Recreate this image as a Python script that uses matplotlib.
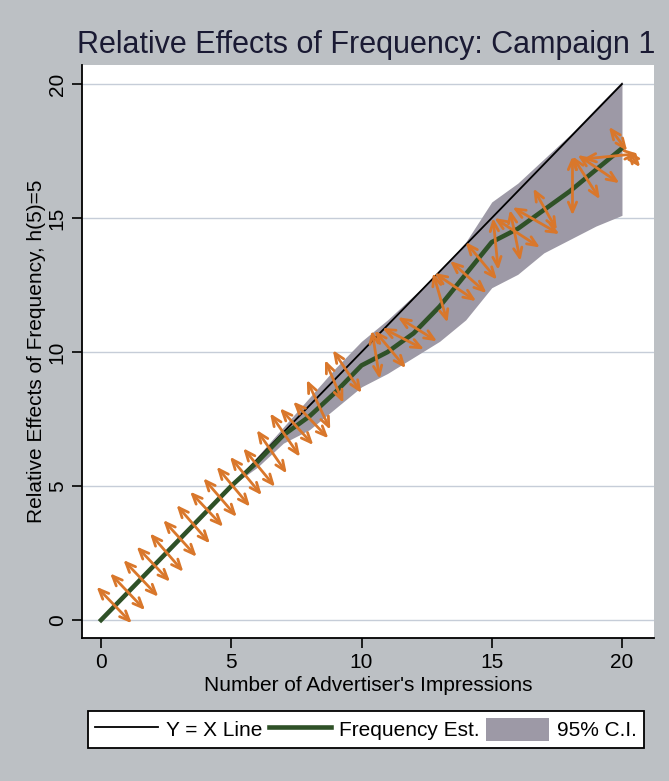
import matplotlib
matplotlib.use("Agg")
import matplotlib.pyplot as plt
from matplotlib.lines import Line2D
from matplotlib.patches import Patch

plt.rcParams['font.family'] = ['Liberation Sans', 'DejaVu Sans']

# data
impressions = [0, 1, 2, 3, 4, 5, 6, 7, 8, 9, 10, 11, 12, 13, 14, 15, 16, 17, 18, 19, 20]
freq_est = [0, 1.0, 2.0, 3.0, 4.0, 5.0, 5.9, 6.9, 7.6, 8.5, 9.5, 10.0, 10.7, 11.7,
            12.9, 14.1, 14.6, 15.3, 16.0, 16.8, 17.6]
ci_upper = [0.05, 1.05, 2.05, 3.05, 4.05, 5.0, 6.1, 7.2, 8.3, 9.4, 10.4, 11.2, 12.1,
            13.0, 14.1, 15.6, 16.3, 17.2, 18.1, 19.1, 20.1]
ci_lower = [-0.05, 0.95, 1.95, 2.95, 3.95, 5.0, 5.7, 6.6, 7.1, 7.9, 8.7, 9.2, 9.8,
            10.4, 11.2, 12.4, 12.9, 13.7, 14.2, 14.7, 15.1]
diag_x = [0, 20]
diag_y = [0, 20]

# orange double arrows drawn over the chart (x0, y0, x1, y1)
arrow_x0 = [-0.17, 0.35, 0.86, 1.37, 1.88, 2.39, 2.90, 3.42, 3.93, 4.44, 4.95, 5.46,
            5.98, 6.49, 6.87, 7.38, 7.90, 8.60, 8.90, 10.4, 10.5, 10.8, 11.4, 12.75,
            12.8, 13.4, 14.0, 15.05, 15.1, 15.7, 15.8, 16.6, 18.1, 18.1, 18.3, 19.5,
            20.2, 18.5]
arrow_y0 = [1.24, 1.74, 2.24, 2.74, 3.23, 3.73, 4.29, 4.79, 5.29, 5.72, 6.09, 6.41,
            7.09, 7.71, 7.90, 8.15, 8.96, 9.70, 10.07, 10.8, 10.8, 10.9, 11.3, 12.95,
            12.95, 13.4, 14.1, 15.0, 15.0, 15.3, 15.4, 16.1, 17.3, 17.3, 17.35, 18.4,
            17.5, 17.2]
arrow_x1 = [1.18, 1.69, 2.20, 2.65, 3.16, 3.67, 4.18, 4.69, 5.21, 5.72, 6.17, 6.68,
            7.13, 7.64, 8.15, 8.73, 8.80, 9.30, 10.0, 10.7, 11.7, 12.4, 12.9, 13.3,
            14.4, 14.8, 15.2, 15.25, 16.85, 16.1, 17.6, 17.5, 18.1, 19.15, 19.9, 20.2,
            20.7, 20.6]
arrow_y1 = [-0.12, 0.37, 0.87, 1.43, 1.80, 2.36, 2.86, 3.48, 3.85, 4.23, 4.66, 4.97,
            5.47, 6.09, 6.53, 6.78, 7.10, 8.10, 8.47, 9.0, 9.4, 10.1, 10.4, 11.1,
            11.9, 12.2, 12.7, 13.06, 13.9, 13.4, 14.4, 14.55, 15.1, 15.7, 16.3, 17.5,
            16.9, 17.4]

y_ticks = [0, 5, 10, 15, 20]
x_ticks = [0, 5, 10, 15, 20]

bg = '#bcc0c4'
band_col = '#9d99a6'
green = '#2f5127'
orange = '#d9772b'

fig = plt.figure(figsize=(6.69, 7.81), dpi=100, facecolor=bg)
ax = fig.add_axes([0.1226, 0.1831, 0.855, 0.7337])
ax.set_facecolor('white')

for yt in y_ticks:
    ax.axhline(yt, color='#c6cdd8', lw=1.0, zorder=1)

ax.fill_between(impressions, ci_lower, ci_upper, color=band_col, lw=0, zorder=2)
ax.plot(diag_x, diag_y, color='black', lw=1.3, zorder=3)
ax.plot(impressions, freq_est, color=green, lw=3.3, zorder=4)

for x0, y0, x1, y1 in zip(arrow_x0, arrow_y0, arrow_x1, arrow_y1):
    ax.annotate('', xy=(x1, y1), xytext=(x0, y0),
                arrowprops=dict(arrowstyle='<->,head_length=0.7,head_width=0.3',
                                color=orange, lw=2.0, shrinkA=0, shrinkB=0),
                zorder=5)

ax.set_xlim(-0.73, 21.23)
ax.set_ylim(-0.67, 20.71)
ax.set_xticks(x_ticks)
ax.set_yticks(y_ticks)
ax.tick_params(axis='both', direction='out', length=7, width=1.2, labelsize=15,
               colors='black', pad=4)
for lab in ax.get_yticklabels():
    lab.set_rotation(90)
    lab.set_va('center')
for side in ['top', 'right']:
    ax.spines[side].set_visible(False)
for side in ['left', 'bottom']:
    ax.spines[side].set_linewidth(1.3)

ax.set_xlabel("Number of Advertiser's Impressions", fontsize=15, labelpad=3)
ax.set_ylabel("Relative Effects of Frequency, h(5)=5", fontsize=15, labelpad=1)

fig.text(0.547, 0.942, "Relative Effects of Frequency: Campaign 1", fontsize=22,
         ha='center', va='center', color='#1a1a33')

handles = [Line2D([], [], color='black', lw=1.3),
           Line2D([], [], color=green, lw=3.3),
           Patch(facecolor=band_col, edgecolor='none')]
leg = fig.legend(handles, ['Y = X Line', 'Frequency Est.', '95% C.I.'], ncol=3,
                 loc='center', bbox_to_anchor=(366 / 669, 1 - 729.5 / 781),
                 fontsize=15, frameon=True, fancybox=False, handlelength=3.0,
                 handleheight=1.3, handletextpad=0.4, columnspacing=0.3,
                 borderpad=0.35)
leg.get_frame().set_edgecolor('black')
leg.get_frame().set_linewidth(1.3)
leg.get_frame().set_facecolor('white')
leg.get_frame().set_alpha(1)

fig.savefig('out.png', dpi=100, facecolor=bg)
